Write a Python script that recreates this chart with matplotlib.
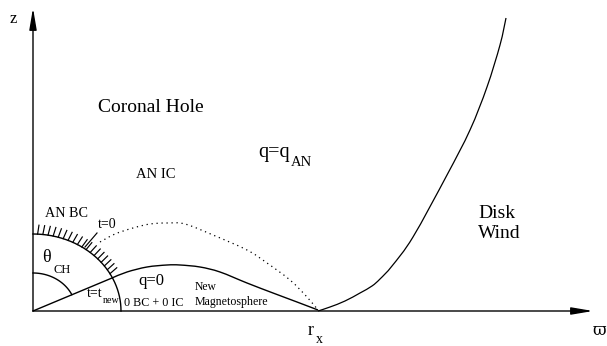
import numpy as np
import matplotlib
matplotlib.use("Agg")
import matplotlib.pyplot as plt
from matplotlib.path import Path
from matplotlib.patches import PathPatch

# ---- geometry (pixel-space schematic coordinates, y downward) ----
origin = (33, 311)
circle_r = (88, 77)           # outer boundary ellipse radii
inner_r = (43, 38)            # theta_CH arc radii
line_end = (112, 278)         # t = t_new line end on circle

# q = 0 boundary (solid)
q0_x = [112, 127, 147, 167, 180, 200, 220, 247, 273, 297, 318]
q0_y = [278, 272, 267, 265, 265, 267, 272, 283, 293, 302, 310]

# t = 0 field line (dotted)
t0_x = [100, 115, 133, 150, 167, 185, 213, 247, 267, 290, 307, 318]
t0_y = [242, 234, 228, 224, 223, 224, 235, 250, 263, 280, 297, 310]

# disk-wind boundary
dw_x = [318, 330, 345, 360, 372, 380, 392, 413, 447, 470, 487, 500, 506]
dw_y = [311, 307, 301, 293, 286, 279, 266, 237, 175, 130, 87, 45, 18]

# hatch ticks (parametric angle on ellipse, degrees)
hatch_t = np.linspace(87, 29, 18)
t0_tick = [(85, 247), (97, 233)]

labels = [
    # text, x, y(baseline), size
    ("z", 10, 23, 12),
    ("Coronal Hole", 98, 112, 14),
    ("AN IC", 136, 178, 10.5),
    ("q=q", 258, 157, 14.5),
    ("AN", 291, 166, 10.5),
    ("AN BC", 45, 217, 10.2),
    ("t=0", 98, 228, 10),
    ("\u03b8", 42, 262, 13),
    ("CH", 54, 273, 9),
    ("q=0", 138, 285, 12),
    ("New", 195, 290, 8.4),
    ("Magnetosphere", 195, 305, 8.6),
    ("t=t", 87, 297, 10),
    ("new", 103, 303, 7.2),
    ("0 BC + 0 IC", 124, 306, 8.7),
    ("Disk", 478, 218, 14),
    ("Wind", 478, 238, 14),
    ("r", 308, 335, 13),
    ("x", 316, 343, 10),
]


def smooth_path(xs, ys):
    """Catmull-Rom through the points, drawn as cubic Bezier segments."""
    p = np.column_stack([xs, ys]).astype(float)
    verts = [p[0]]
    codes = [Path.MOVETO]
    n = len(p)
    for i in range(n - 1):
        p0 = p[i - 1] if i > 0 else p[i]
        p1, p2 = p[i], p[i + 1]
        p3 = p[i + 2] if i + 2 < n else p[i + 1]
        c1 = p1 + (p2 - p0) / 6.0
        c2 = p2 - (p3 - p1) / 6.0
        verts += [c1, c2, p2]
        codes += [Path.CURVE4] * 3
    return Path(verts, codes)


fig = plt.figure(figsize=(6.07, 3.46), dpi=100)
ax = fig.add_axes([0, 0, 1, 1])
ax.set_xlim(0, 607)
ax.set_ylim(346, 0)
ax.axis("off")

lw = 1.0
ox, oy = origin

# axes with arrows
ax.annotate("", xy=(593, oy), xytext=(ox, oy),
            arrowprops=dict(arrowstyle="-|>,head_length=1.3,head_width=0.22",
                            color="black", lw=lw, shrinkA=0, shrinkB=0))
ax.annotate("", xy=(ox, 8), xytext=(ox, oy),
            arrowprops=dict(arrowstyle="-|>,head_length=1.3,head_width=0.22",
                            color="black", lw=lw, shrinkA=0, shrinkB=0))

# outer ellipse quarter
t = np.radians(np.linspace(0, 90, 200))
ax.plot(ox + circle_r[0] * np.cos(t), oy - circle_r[1] * np.sin(t), color="black", lw=lw)

# inner arc
t_end = np.degrees(np.arctan2((oy - line_end[1]) / circle_r[1], (line_end[0] - ox) / circle_r[0]))
ti = np.radians(np.linspace(t_end, 90, 100))
ax.plot(ox + inner_r[0] * np.cos(ti), oy - inner_r[1] * np.sin(ti), color="black", lw=lw)

# t = t_new line
ax.plot([ox, line_end[0]], [oy, line_end[1]], color="black", lw=lw)

# hatch ticks
for td in hatch_t:
    tr = np.radians(td)
    bx = ox + circle_r[0] * np.cos(tr)
    by = oy - circle_r[1] * np.sin(tr)
    normal = np.degrees(np.arctan2(np.sin(tr) / circle_r[1], np.cos(tr) / circle_r[0]))
    d = normal - 6 + max(0.0, 50 - td) * 0.7
    L = 9
    ex = bx + L * np.cos(np.radians(d))
    ey = by - L * np.sin(np.radians(d))
    ax.plot([bx, ex], [by, ey], color="black", lw=0.85)
ax.plot([t0_tick[0][0], t0_tick[1][0]], [t0_tick[0][1], t0_tick[1][1]], color="black", lw=0.85)

# curves
ax.add_patch(PathPatch(smooth_path(q0_x, q0_y), fill=False, edgecolor="black", lw=lw))
ax.add_patch(PathPatch(smooth_path(t0_x, t0_y), fill=False, edgecolor="black", lw=0.9,
                       linestyle=(0, (1, 3))))
ax.add_patch(PathPatch(smooth_path(dw_x, dw_y), fill=False, edgecolor="black", lw=0.9))

fam = ["Liberation Serif", "DejaVu Serif"]
for txt, x, y, s in labels:
    ax.text(x, y, txt, fontsize=s, family=fam, ha="left", va="baseline")
ax.text(593, 335, "\u03d6", fontsize=12, family=["DejaVu Serif"], ha="left", va="baseline")

fig.savefig("out.png", dpi=100)
